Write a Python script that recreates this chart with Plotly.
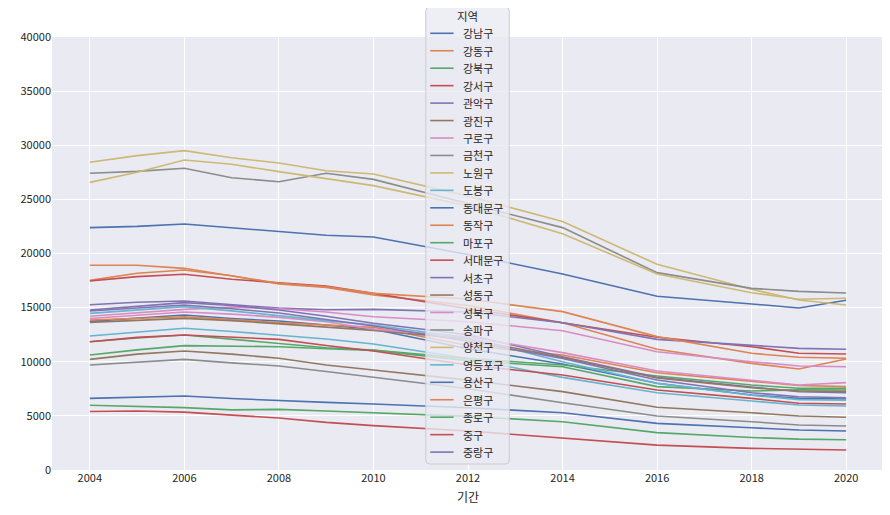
import plotly.graph_objects as go

years = [2004, 2005, 2006, 2007, 2008, 2009, 2010, 2012, 2014, 2016, 2018, 2019, 2020]

districts = ["강남구", "강동구", "강북구", "강서구", "관악구", "광진구", "구로구", "금천구",
             "노원구", "도봉구", "동대문구", "동작구", "마포구", "서대문구", "서초구", "성동구",
             "성북구", "송파구", "양천구", "영등포구", "용산구", "은평구", "종로구", "중구", "중랑구"]

gangnam = [22390, 22510, 22730, 22390, 22020, 21680, 21520, 19900, 18110, 16050, 15340, 14970, 15680]
gangdong = [17520, 18170, 18480, 17950, 17180, 16870, 16170, 15200, 13610, 11150, 9850, 9330, 10250]
gangbuk = [10620, 11100, 11490, 11450, 11390, 11200, 11050, 10100, 9540, 7700, 7300, 7400, 7390]
gangseo = [17460, 17860, 18080, 17620, 17300, 17000, 16320, 14900, 13610, 12260, 11390, 10780, 10720]
gwanak = [15270, 15500, 15610, 15300, 14950, 14800, 14840, 14600, 13610, 12070, 11490, 11240, 11150]
gwangjin = [10220, 10700, 10990, 10700, 10320, 9700, 9240, 8300, 7240, 5790, 5290, 4990, 4870]
guro = [14200, 14500, 14840, 15050, 14900, 14600, 14160, 13700, 12870, 10930, 10000, 9610, 9540]
geumcheon = [9700, 9950, 10220, 9900, 9610, 9100, 8560, 7500, 6220, 4990, 4460, 4160, 4060]
nowon = [28430, 29040, 29500, 28850, 28360, 27650, 27340, 25300, 22950, 19000, 16690, 15700, 15240]
dobong = [12380, 12750, 13090, 12800, 12470, 12100, 11640, 10300, 8560, 7140, 6370, 6000, 5910]
dongdaemun = [13730, 14050, 14320, 14000, 13760, 13400, 13000, 11200, 9790, 8010, 6930, 6620, 6560]
dongjak = [13860, 14000, 14160, 13900, 13610, 13400, 13180, 11500, 10620, 8990, 8160, 7800, 7700]
mapo = [11850, 12200, 12470, 12100, 11700, 11300, 11090, 10300, 9700, 8680, 7850, 7550, 7540]
seodaemun = [11850, 12250, 12470, 12300, 12070, 11500, 11000, 9700, 8780, 7390, 6620, 6160, 6100]
seocho = [14780, 15100, 15460, 15200, 14780, 14200, 13550, 12500, 10470, 8560, 7640, 7230, 7140]
seongdong = [13640, 13850, 14010, 13800, 13500, 13200, 12900, 12100, 10400, 8500, 7600, 7300, 7250]
seongbuk = [14000, 14300, 14600, 14400, 14100, 13700, 13000, 12300, 10840, 9150, 8310, 7850, 8070]
songpa = [27410, 27590, 27870, 27000, 26630, 27410, 26850, 24600, 22390, 18230, 16780, 16500, 16350]
yangcheon = [26570, 27500, 28640, 28240, 27560, 26880, 26270, 24400, 21830, 18110, 16380, 15770, 15860]
yeongdeungpo = [14470, 14800, 15090, 14700, 14230, 13800, 13400, 12200, 10000, 8000, 6900, 6500, 6450]
yongsan = [6620, 6750, 6840, 6600, 6400, 6250, 6100, 5750, 5290, 4310, 3900, 3700, 3600]
eunpyeong = [18910, 18910, 18630, 17950, 17240, 16930, 16320, 15800, 14630, 12320, 10780, 10410, 10320]
jongno = [5980, 5900, 5760, 5550, 5600, 5450, 5300, 4950, 4460, 3450, 3000, 2850, 2800]
junggu = [5400, 5450, 5350, 5100, 4800, 4400, 4100, 3600, 2950, 2300, 2000, 1900, 1850]
jungnang = [14690, 15000, 15240, 14900, 14500, 13900, 13300, 11900, 10300, 8310, 7140, 6770, 6680]

series = [gangnam, gangdong, gangbuk, gangseo, gwanak, gwangjin, guro, geumcheon,
          nowon, dobong, dongdaemun, dongjak, mapo, seodaemun, seocho, seongdong,
          seongbuk, songpa, yangcheon, yeongdeungpo, yongsan, eunpyeong, jongno, junggu, jungnang]

palette = ["#4c72b0", "#dd8452", "#55a868", "#c44e52", "#8172b3",
           "#937860", "#da8bc3", "#8c8c8c", "#ccb974", "#64b5cd"]

x_ticks = [2004, 2006, 2008, 2010, 2012, 2014, 2016, 2018, 2020]
y_ticks = list(range(0, 40001, 5000))

FONT = "Noto Sans CJK KR"
W, H = 890, 515
OFF = 8  # page body margin offset
PL, PR, PT, PB = 47, 884, 37, 470  # plot area in window pixels
ML, MT = PL - OFF, PT - OFF
MR, MB = W + OFF - PR, H + OFF - PB
PW, PH = PR - PL, PB - PT


def px(xp):
    return (xp - PL) / PW


def py(yp):
    return (PB - yp) / PH


fig = go.Figure()
for i, (name, vals) in enumerate(zip(districts, series)):
    fig.add_trace(go.Scatter(
        x=years, y=vals, name=name, mode="lines",
        line=dict(color=palette[i % 10], width=1.6),
    ))

# legend box (drawn as shapes/annotations so its compact layout matches)
lx0, lx1, ly0, ly1, r = 423, 507, 7, 464, 4
rx, ry = r / PW, r / PH
X0, X1, Y0, Y1 = px(lx0), px(lx1), py(ly0), py(ly1)
path = (f"M {X0+rx},{Y0} L {X1-rx},{Y0} Q {X1},{Y0} {X1},{Y0-ry} "
        f"L {X1},{Y1+ry} Q {X1},{Y1} {X1-rx},{Y1} L {X0+rx},{Y1} "
        f"Q {X0},{Y1} {X0},{Y1+ry} L {X0},{Y0-ry} Q {X0},{Y0} {X0+rx},{Y0} Z")
shapes = [dict(type="path", xref="paper", yref="paper", path=path,
               fillcolor="rgba(234,234,242,0.8)", line=dict(color="#cccccc", width=1),
               layer="above")]
annotations = [dict(text="지역", xref="paper", yref="paper", x=px(465), y=py(16),
                    xanchor="center", yanchor="middle", showarrow=False,
                    font=dict(family=FONT, size=11.5, color="#262626"))]
first_y, step = 33.3, 17.45
for i, name in enumerate(districts):
    yy = first_y + i * step
    shapes.append(dict(type="line", xref="paper", yref="paper",
                       x0=px(427.5), x1=px(451), y0=py(yy), y1=py(yy),
                       line=dict(color=palette[i % 10], width=1.6), layer="above"))
    annotations.append(dict(text=name, xref="paper", yref="paper", x=px(458), y=py(yy),
                            xanchor="left", yanchor="middle", showarrow=False,
                            font=dict(family=FONT, size=11, color="#262626")))

fig.update_layout(
    width=W, height=H,
    margin=dict(l=ML, r=MR, t=MT, b=MB),
    paper_bgcolor="white",
    plot_bgcolor="#eaeaf2",
    font=dict(family=FONT, size=11, color="#262626"),
    showlegend=False,
    shapes=shapes,
    annotations=annotations,
    xaxis=dict(
        range=[2003.2, 2020.8], tickvals=x_ticks, ticktext=[str(t) for t in x_ticks],
        showgrid=True, gridcolor="white", gridwidth=1, zeroline=False,
        showline=False, ticks="", tickfont=dict(size=11),
        title=dict(text="기간", font=dict(size=12), standoff=9),
    ),
    yaxis=dict(
        range=[0, 40000], tickvals=y_ticks, ticktext=[str(t) for t in y_ticks],
        showgrid=True, gridcolor="white", gridwidth=1, zeroline=False,
        showline=False, ticks="", tickfont=dict(size=11),
    ),
)

fig.write_html("out.html")
